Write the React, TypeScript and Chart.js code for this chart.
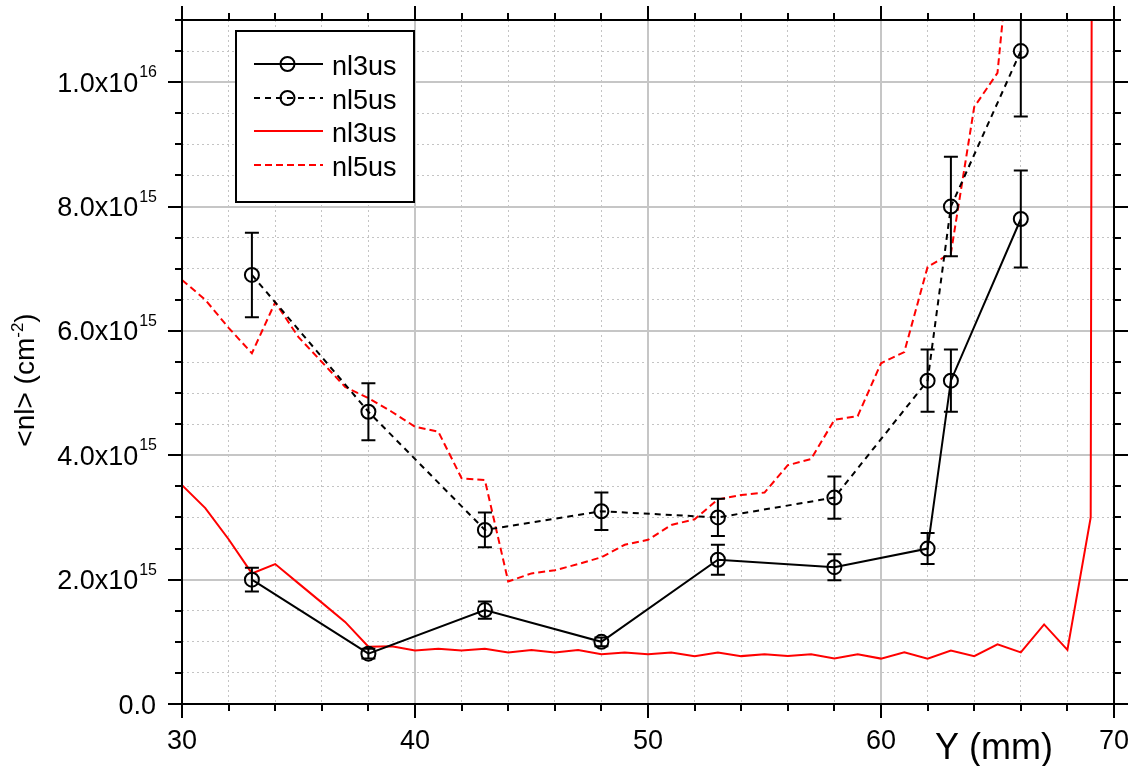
import React, { useEffect, useRef } from 'react';
import { Chart, registerables } from 'chart.js';

Chart.register(...registerables);

const FONT = '"Liberation Sans", Arial, Helvetica, sans-serif';

// ---- Data (y values in units of 1e15 cm^-2) ----
const pointX = [33, 38, 43, 48, 53, 58, 62, 63, 66];
const nl3usVals = [2.0, 0.81, 1.51, 1.0, 2.32, 2.2, 2.5, 5.2, 7.8];
const nl3usErr = [0.19, 0.08, 0.14, 0.07, 0.24, 0.21, 0.25, 0.5, 0.78];
const nl5usVals = [6.9, 4.7, 2.8, 3.1, 3.0, 3.32, 5.2, 8.0, 10.5];
const nl5usErr = [0.68, 0.46, 0.28, 0.3, 0.3, 0.34, 0.5, 0.8, 1.05];

const sim3X = [30, 31, 32, 33, 34, 35, 36, 37, 38, 39, 40, 41, 42, 43, 44, 45, 46, 47, 48, 49,
  50, 51, 52, 53, 54, 55, 56, 57, 58, 59, 60, 61, 62, 63, 64, 65, 66, 67, 68, 69, 70];
const sim3Vals = [3.52, 3.15, 2.65, 2.1, 2.25, 1.94, 1.63, 1.32, 0.92, 0.93, 0.86, 0.89, 0.86, 0.89, 0.83, 0.87, 0.83, 0.87, 0.8, 0.83,
  0.8, 0.83, 0.77, 0.83, 0.77, 0.8, 0.77, 0.8, 0.73, 0.8, 0.73, 0.83, 0.73, 0.86, 0.77, 0.96, 0.83, 1.28, 0.87, 3.0, 200];

const sim5X = [30, 31, 32, 33, 34, 35, 36, 37, 38, 39, 40, 41, 42, 43, 44, 45, 46, 47, 48,
  49, 50, 51, 52, 53, 54, 55, 56, 57, 58, 59, 60, 61, 62, 63, 64, 65, 66];
const sim5Vals = [6.82, 6.5, 6.05, 5.64, 6.46, 5.9, 5.5, 5.1, 4.92, 4.7, 4.46, 4.38, 3.63, 3.6, 1.97, 2.1, 2.15, 2.25, 2.36,
  2.56, 2.64, 2.88, 2.97, 3.29, 3.36, 3.4, 3.84, 3.94, 4.57, 4.63, 5.48, 5.66, 7.03, 7.25, 9.6, 10.15, 14];

const legendLabels = ['nl3us', 'nl5us', 'nl3us', 'nl5us'];

const xTickValues = [30, 40, 50, 60, 70];
const xTickLabels = ['30', '40', '50', '60', '70'];
const yTickValues = [0, 2, 4, 6, 8, 10];
const yTickMantissa = ['0.0', '2.0x10', '4.0x10', '6.0x10', '8.0x10', '1.0x10'];
const yTickExp = ['', '15', '15', '15', '15', '16'];

const xTitle = 'Y (mm)';
const yTitleMain = '<nl> (cm';
const yTitleSup = '-2';
const yTitleEnd = ')';

const X_MIN = 30, X_MAX = 70, X_STEP = 2, X_MAJOR = 10;
const Y_MIN = 0, Y_MAX = 11, Y_STEP = 0.5, Y_MAJOR = 2;

const isMajor = (v: number, m: number) => Math.abs(v / m - Math.round(v / m)) < 1e-6;

const decorPlugin = {
  id: 'decor',
  afterDatasetsDraw(chart: any) {
    const ctx = chart.ctx;
    const xs = chart.scales.x;
    const ys = chart.scales.y;
    const a = chart.chartArea;
    ctx.save();
    ctx.beginPath();
    ctx.rect(a.left, a.top, a.right - a.left, a.bottom - a.top);
    ctx.clip();
    ctx.strokeStyle = '#000';
    ctx.lineWidth = 2;
    ctx.setLineDash([]);
    const drawErr = (xv: number, yv: number, ev: number) => {
      const px = xs.getPixelForValue(xv);
      const top = ys.getPixelForValue(yv + ev);
      const bot = ys.getPixelForValue(yv - ev);
      ctx.beginPath();
      ctx.moveTo(px, top);
      ctx.lineTo(px, bot);
      ctx.moveTo(px - 7, top);
      ctx.lineTo(px + 7, top);
      ctx.moveTo(px - 7, bot);
      ctx.lineTo(px + 7, bot);
      ctx.stroke();
    };
    pointX.forEach((x, i) => drawErr(x, nl3usVals[i], nl3usErr[i]));
    pointX.forEach((x, i) => drawErr(x, nl5usVals[i], nl5usErr[i]));
    ctx.restore();
  },
  afterDraw(chart: any) {
    const ctx = chart.ctx;
    const xs = chart.scales.x;
    const ys = chart.scales.y;
    const a = chart.chartArea;
    ctx.save();
    ctx.setLineDash([]);
    ctx.strokeStyle = '#000';
    ctx.lineWidth = 2;
    // frame
    ctx.strokeRect(a.left, a.top, a.right - a.left, a.bottom - a.top);
    // ticks
    ctx.beginPath();
    for (let v = X_MIN; v <= X_MAX + 1e-9; v += X_STEP) {
      const px = Math.round(xs.getPixelForValue(v));
      const len = isMajor(v, X_MAJOR) ? 14 : 7;
      ctx.moveTo(px, a.bottom);
      ctx.lineTo(px, a.bottom + len);
      ctx.moveTo(px, a.top);
      ctx.lineTo(px, a.top - len);
    }
    for (let k = 0; k * Y_STEP <= Y_MAX + 1e-9; k++) {
      const v = Y_MIN + k * Y_STEP;
      const py = Math.round(ys.getPixelForValue(v));
      const len = isMajor(v, Y_MAJOR) ? 14 : 7;
      ctx.moveTo(a.left, py);
      ctx.lineTo(a.left - len, py);
      ctx.moveTo(a.right, py);
      ctx.lineTo(a.right + len, py);
    }
    ctx.stroke();

    ctx.fillStyle = '#000';
    // x tick labels
    ctx.font = `27px ${FONT}`;
    ctx.textAlign = 'center';
    ctx.textBaseline = 'alphabetic';
    xTickValues.forEach((v, i) => {
      ctx.fillText(xTickLabels[i], xs.getPixelForValue(v), a.bottom + 45);
    });
    // y tick labels
    const R = a.left - 25;
    yTickValues.forEach((v, i) => {
      const py = ys.getPixelForValue(v);
      let ew = 0;
      if (yTickExp[i]) {
        ctx.font = `16px ${FONT}`;
        ew = ctx.measureText(yTickExp[i]).width;
        ctx.textAlign = 'left';
        ctx.fillText(yTickExp[i], R - ew, py - 5);
        ew += 1;
      }
      ctx.font = `27px ${FONT}`;
      ctx.textAlign = 'right';
      ctx.fillText(yTickMantissa[i], R - ew - (yTickExp[i] ? 0 : 1), py + 9.5);
    });
    // x title
    ctx.font = `36px ${FONT}`;
    ctx.textAlign = 'left';
    ctx.fillText(xTitle, 935, 759);
    // y title
    ctx.save();
    ctx.translate(34, 380);
    ctx.rotate(-Math.PI / 2);
    ctx.font = `28px ${FONT}`;
    const w1 = ctx.measureText(yTitleMain).width;
    const w3 = ctx.measureText(yTitleEnd).width;
    ctx.font = `17px ${FONT}`;
    const w2 = ctx.measureText(yTitleSup).width;
    const start = -(w1 + w2 + w3) / 2;
    ctx.textAlign = 'left';
    ctx.font = `28px ${FONT}`;
    ctx.fillText(yTitleMain, start, 0);
    ctx.font = `17px ${FONT}`;
    ctx.fillText(yTitleSup, start + w1, -11);
    ctx.font = `28px ${FONT}`;
    ctx.fillText(yTitleEnd, start + w1 + w2, 0);
    ctx.restore();

    // legend
    const bx = a.left + 54, by = a.top + 11, bw = 178, bh = 171;
    ctx.fillStyle = '#fff';
    ctx.fillRect(bx, by, bw, bh);
    ctx.strokeStyle = '#000';
    ctx.lineWidth = 2;
    ctx.strokeRect(bx, by, bw, bh);
    chart.data.datasets.forEach((ds: any, i: number) => {
      const base = by + 44 + i * 33.7;
      const ly = Math.round(base - 11);
      ctx.save();
      ctx.strokeStyle = ds.borderColor;
      ctx.lineWidth = ds.borderWidth;
      ctx.setLineDash(ds.borderDash || []);
      ctx.beginPath();
      ctx.moveTo(bx + 18, ly);
      ctx.lineTo(bx + 87, ly);
      ctx.stroke();
      if (ds.pointRadius > 0) {
        ctx.setLineDash([]);
        ctx.lineWidth = ds.pointBorderWidth;
        ctx.strokeStyle = ds.pointBorderColor;
        ctx.beginPath();
        ctx.arc(bx + 51.5, ly, ds.pointRadius, 0, Math.PI * 2);
        ctx.stroke();
      }
      ctx.restore();
      ctx.fillStyle = '#000';
      ctx.font = `27px ${FONT}`;
      ctx.textAlign = 'left';
      ctx.fillText(legendLabels[i], bx + 96, base);
    });
    ctx.restore();
  },
};

export default function App() {
  const ref = useRef<HTMLCanvasElement | null>(null);
  useEffect(() => {
    if (!ref.current) return;
    const gridColor = (c: any, m: number) => {
      const v = c.tick ? c.tick.value : 0;
      return isMajor(v, m) ? '#c6c6c6' : '#c4c4c4';
    };
    const gridWidth = (c: any, m: number) => {
      const v = c.tick ? c.tick.value : 0;
      return isMajor(v, m) ? 2 : 1;
    };
    const gridDash = (c: any, m: number) => {
      const v = c.tick ? c.tick.value : 0;
      return isMajor(v, m) ? [] : [2, 3];
    };
    const chart = new Chart(ref.current, {
      type: 'line',
      data: {
        datasets: [
          {
            label: legendLabels[0],
            data: pointX.map((x, i) => ({ x, y: nl3usVals[i] })),
            borderColor: '#000000',
            borderWidth: 2,
            pointRadius: 7,
            pointBorderWidth: 2,
            pointBorderColor: '#000000',
            pointBackgroundColor: 'rgba(0,0,0,0)',
            fill: false,
            tension: 0,
          },
          {
            label: legendLabels[1],
            data: pointX.map((x, i) => ({ x, y: nl5usVals[i] })),
            borderColor: '#000000',
            borderWidth: 2,
            borderDash: [6, 5],
            pointRadius: 7,
            pointBorderWidth: 2,
            pointBorderColor: '#000000',
            pointBackgroundColor: 'rgba(0,0,0,0)',
            fill: false,
            tension: 0,
          },
          {
            label: legendLabels[2],
            data: sim3X.map((x, i) => ({ x, y: sim3Vals[i] })),
            borderColor: '#ff0000',
            borderWidth: 2,
            pointRadius: 0,
            fill: false,
            tension: 0,
          },
          {
            label: legendLabels[3],
            data: sim5X.map((x, i) => ({ x, y: sim5Vals[i] })),
            borderColor: '#ff0000',
            borderWidth: 2,
            borderDash: [7, 4],
            pointRadius: 0,
            fill: false,
            tension: 0,
          },
        ],
      },
      options: {
        animation: false,
        responsive: false,
        events: [],
        layout: { padding: { top: 20, right: 18, left: 0, bottom: 0 } },
        plugins: { legend: { display: false }, tooltip: { enabled: false } },
        scales: {
          x: {
            type: 'linear',
            min: X_MIN,
            max: X_MAX,
            ticks: { display: false, stepSize: X_STEP, autoSkip: false },
            grid: {
              drawTicks: false,
              color: (c: any) => gridColor(c, X_MAJOR),
              lineWidth: (c: any) => gridWidth(c, X_MAJOR),
            },
            border: { display: false, dash: (c: any) => gridDash(c, X_MAJOR) },
            afterFit: (s: any) => { s.height = 62; },
          },
          y: {
            type: 'linear',
            min: Y_MIN,
            max: Y_MAX,
            ticks: { display: false, stepSize: Y_STEP, autoSkip: false },
            grid: {
              drawTicks: false,
              color: (c: any) => gridColor(c, Y_MAJOR),
              lineWidth: (c: any) => gridWidth(c, Y_MAJOR),
            },
            border: { display: false, dash: (c: any) => gridDash(c, Y_MAJOR) },
            afterFit: (s: any) => { s.width = 182; },
          },
        },
      } as any,
      plugins: [decorPlugin],
    });
    return () => chart.destroy();
  }, []);
  return (
    <div style={{ position: 'absolute', left: 0, top: 0, width: 1132, height: 766, background: '#fff' }}>
      <canvas ref={ref} width={1132} height={766} style={{ display: 'block' }} />
    </div>
  );
}
